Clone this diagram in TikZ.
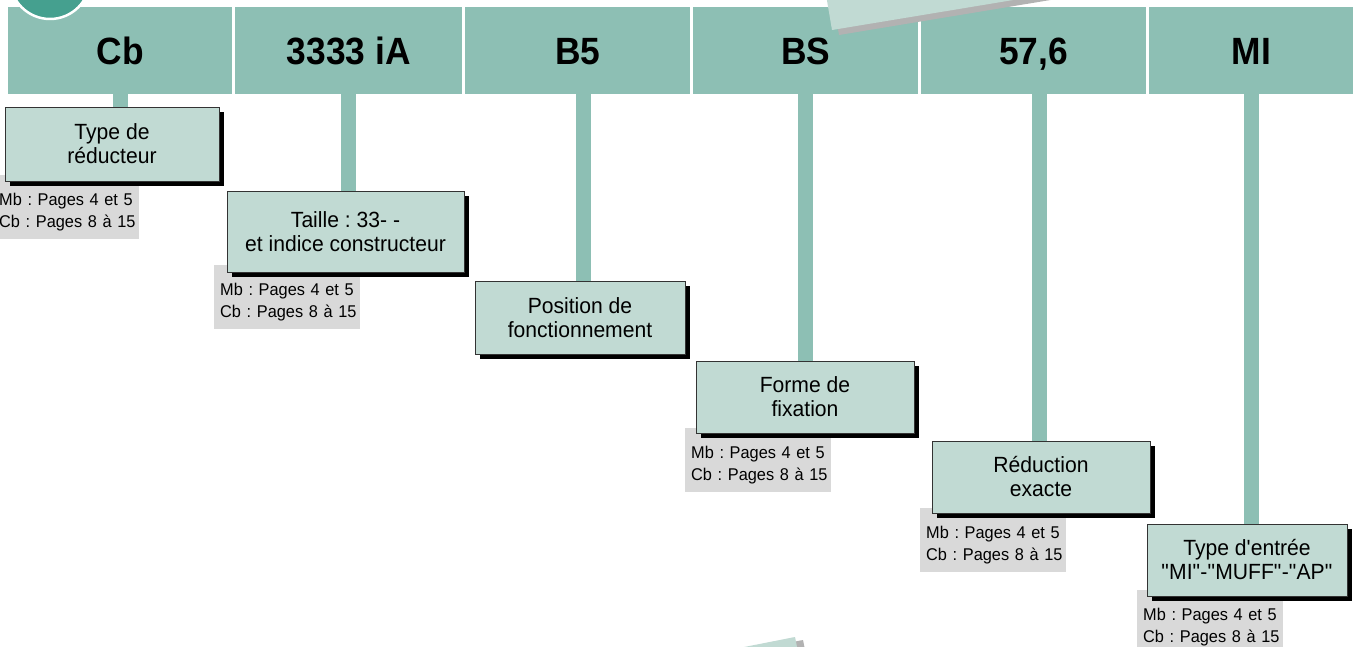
\documentclass[tikz,border=0pt]{standalone}
\usepackage{fontspec}
\setmainfont{Liberation Sans}[FakeStretch=0.96]
\newfontfamily\codefont{Liberation Sans}[FakeStretch=0.93]
\usetikzlibrary{positioning, shadows}
\definecolor{headteal}{RGB}{141,191,180}
\definecolor{boxteal}{RGB}{193,218,211}
\definecolor{infogray}{RGB}{217,217,217}
\definecolor{badgeteal}{RGB}{69,160,143}
\definecolor{cardshadow}{RGB}{178,178,178}
\frenchspacing
\newcommand{\pagesinfo}{\mbox{\rule{0pt}{22pt}Mb : Pages 4 et 5}\\\mbox{Cb : Pages 8 à 15}}

\tikzset{
  codecell/.style={fill=headteal, anchor=north west, minimum height=87pt, inner sep=0pt,
    text height=27pt, text depth=0pt,
    font=\codefont\fontsize{38}{40}\selectfont\bfseries},
  labelbox/.style={draw=black!80, line width=0.8pt, fill=boxteal, align=center, inner sep=0pt,
    font=\fontsize{22}{24}\selectfont,
    drop shadow={fill=black, opacity=1, shadow xshift=5pt, shadow yshift=-5pt}},
  infobox/.style={fill=infogray, anchor=north west, minimum height=64pt, text width=134pt,
    inner xsep=6pt, inner ysep=0pt, align=left, font=\fontsize{17}{22}\selectfont},
  stem/.style={headteal, line width=15pt}
}

\begin{document}
\begin{tikzpicture}[x=1pt, y=-1pt]
\clip (0,0) rectangle (1358,647);
\fill[white] (0,0) rectangle (1358,647);
% code bar
\node[codecell, minimum width=224pt] (cType) at (8,7) {Cb};
\node[codecell, minimum width=227pt] (cSize) at (235,7) {3333 iA};
\node[codecell, minimum width=225pt] (cPos) at (465,7) {B5};
\node[codecell, minimum width=225pt] (cFix) at (693,7) {BS};
\node[codecell, minimum width=225pt] (cRatio) at (921,7) {57,6};
\node[codecell, minimum width=204pt] (cInput) at (1149,7) {MI};
\draw[fill=badgeteal, draw=white, line width=2.5pt] (50,-21) circle (40pt);
% tilted cards, cut by the page
\fill[cardshadow] (839,35) -- (1135,-14) -- (1125,-73) -- (829,-24) -- cycle;
\fill[boxteal] (832,30) -- (1128,-19) -- (1118,-78) -- (822,-29) -- cycle;
\fill[cardshadow] (803,640) -- (815,699) -- (521,757) -- (509,698) -- cycle;
\fill[boxteal] (795,637) -- (807,696) -- (513,754) -- (501,695) -- cycle;
% page references
\node[infobox] (iType) at (-7,175) {\pagesinfo};
\node[infobox] (iSize) at (214,265) {\pagesinfo};
\node[infobox] (iFix) at (685,428) {\pagesinfo};
\node[infobox] (iRatio) at (920,508) {\pagesinfo};
\node[infobox] (iInput) at (1137,590) {\pagesinfo};
% labels
\node[labelbox, minimum width=214pt, minimum height=74pt] (lType) at (112,144) {Type de\\réducteur};
\node[labelbox, minimum width=237pt, minimum height=81pt] (lSize) at (345.5,231.5) {Taille : 33- -\\et indice constructeur};
\node[labelbox, minimum width=210pt, minimum height=73pt] (lPos) at (580,317.5) {Position de\\fonctionnement};
\node[labelbox, minimum width=218pt, minimum height=72pt] (lFix) at (805,397) {Forme de\\fixation};
\node[labelbox, minimum width=218pt, minimum height=72pt] (lRatio) at (1041,477) {Réduction\\exacte};
\node[labelbox, minimum width=200pt, minimum height=72pt] (lInput) at (1247,560) {Type d\textquotesingle entrée\\\textquotedbl MI\textquotedbl-\textquotedbl MUFF\textquotedbl-\textquotedbl AP\textquotedbl};
% stems
\draw[stem] (cType.south) -- (cType.south |- lType.north);
\draw[stem] (cSize.south) -- (cSize.south |- lSize.north);
\draw[stem] ([xshift=6pt]cPos.south) -- ([xshift=6pt]cPos.south |- lPos.north);
\draw[stem] (cFix.south) -- (cFix.south |- lFix.north);
\draw[stem] ([xshift=6pt]cRatio.south) -- ([xshift=6pt]cRatio.south |- lRatio.north);
\draw[stem] (cInput.south) -- (cInput.south |- lInput.north);
\end{tikzpicture}
\end{document}
